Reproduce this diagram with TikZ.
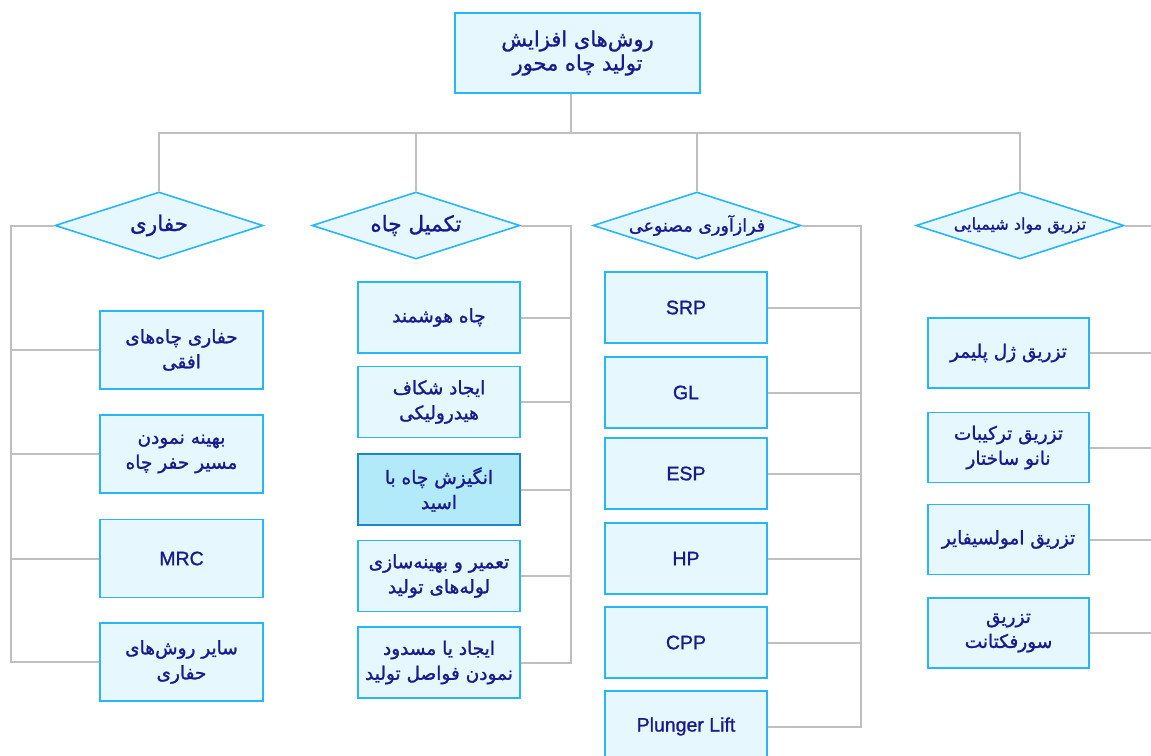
\documentclass[tikz,border=0pt]{standalone}
\usepackage{fontspec}
\setmainfont{Liberation Sans}
\newfontfamily\latinmed[FakeBold=1.2]{Liberation Sans}
\newfontfamily\farsi[Script=Arabic, FakeBold=1.3]{DejaVu Sans}
\TeXXeTstate=1
\usetikzlibrary{shapes.geometric}
\definecolor{bordc}{HTML}{29B6F6}
\definecolor{boxc}{HTML}{E6F8FE}
\definecolor{hifill}{HTML}{B3EAF9}
\definecolor{hibord}{HTML}{1C86C6}
\definecolor{txtc}{HTML}{1A1A8C}
\definecolor{linec}{HTML}{BFBFBF}
\newcommand{\fa}[1]{{\farsi\beginR #1\endR}}
\tikzset{
  conn/.style={draw=linec, line width=2pt},
  box/.style={rectangle, draw=bordc, fill=boxc, line width=1.6pt, text=txtc, align=center,
    minimum width=162, minimum height=71, inner sep=2pt, font=\fontsize{18.5}{25}\selectfont},
  lbox/.style={box, font=\latinmed\fontsize{19.5}{22}\selectfont},
  diam/.style={diamond, draw=bordc, fill=boxc, line width=1.6pt, text=txtc, inner sep=0pt,
    aspect=3.1, minimum width=208, minimum height=67, font=\fontsize{21.5}{22}\selectfont},
}
\begin{document}
\begin{tikzpicture}[x=1pt, y=-1pt]
\useasboundingbox (0,0) rectangle (1151,755);
\clip (0,0) rectangle (1151,755);
% top
\node[box, minimum width=245, minimum height=80, font=\fontsize{21}{24}\selectfont] (top) at (577.5,53) {\fa{روش‌های افزایش}\\\fa{تولید چاه محور}};
% diamonds
\node[diam] (d1) at (159,225.5) {\fa{حفاری}};
\node[diam] (d2) at (416,225.5) {\fa{تکمیل چاه}};
\node[diam, font=\fontsize{17.5}{20}\selectfont] (d3) at (697,225.5) {\fa{فرازآوری مصنوعی}};
\node[diam, font=\fontsize{16}{18}\selectfont] (d4) at (1020,225.5) {\fa{تزریق مواد شیمیایی}};
% column 1
\node[box, minimum width=163, minimum height=78] (b11) at (181.5,350) {\fa{حفاری چاه‌های}\\\fa{افقی}};
\node[box, minimum width=163, minimum height=78] (b12) at (181.5,454) {\fa{بهینه نمودن}\\\fa{مسیر حفر چاه}};
\node[lbox, minimum width=163, minimum height=78] (b13) at (181.5,558.5) {MRC};
\node[box, minimum width=163, minimum height=78] (b14) at (181.5,662) {\fa{سایر روش‌های}\\\fa{حفاری}};
% column 2
\node[box] (b21) at (439,317.5) {\fa{چاه هوشمند}};
\node[box] (b22) at (439,402) {\fa{ایجاد شکاف}\\\fa{هیدرولیکی}};
\node[box, fill=hifill, draw=hibord] (b23) at (439,489.5) {\fa{انگیزش چاه با}\\\fa{اسید}};
\node[box] (b24) at (439,576) {\fa{تعمیر و بهینه‌سازی}\\\fa{لوله‌های تولید}};
\node[box] (b25) at (439,662.5) {\fa{ایجاد یا مسدود}\\\fa{نمودن فواصل تولید}};
% column 3
\node[lbox] (b31) at (686,307.5) {SRP};
\node[lbox] (b32) at (686,392.5) {GL};
\node[lbox] (b33) at (686,473.5) {ESP};
\node[lbox] (b34) at (686,558.5) {HP};
\node[lbox] (b35) at (686,642.5) {CPP};
\node[lbox] (b36) at (686,726.5) {Plunger Lift};
% column 4
\node[box, minimum width=161, minimum height=70] (b41) at (1008.5,353) {\fa{تزریق ژل پلیمر}};
\node[box, minimum width=161, minimum height=70] (b42) at (1008.5,447.5) {\fa{تزریق ترکیبات}\\\fa{نانو ساختار}};
\node[box, minimum width=161, minimum height=70] (b43) at (1008.5,539.5) {\fa{تزریق امولسیفایر}};
\node[box, minimum width=161, minimum height=70] (b44) at (1008.5,633) {\fa{تزریق}\\\fa{سورفکتانت}};
% coordinates
\coordinate (bus) at (571,133);
\coordinate (c1) at (11,0);
\coordinate (c2) at (571,0);
\coordinate (c3) at (861,0);
\coordinate (c4) at (1165,0);
% top connectors
\draw[conn] (top.south -| bus) -- (bus);
\draw[conn] (d1.north) |- (bus) -| (d4.north);
\draw[conn] (d2.north) -- (d2.north |- bus);
\draw[conn] (d3.north) -- (d3.north |- bus);
% column 1
\draw[conn] (d1.west) -| (c1 |- b14.west) -- (b14.west);
\foreach \n in {b11,b12,b13} \draw[conn] (\n.west) -- (\n.west -| c1);
% column 2
\draw[conn] (d2.east) -| (c2 |- b25.east) -- (b25.east);
\foreach \n in {b21,b22,b23,b24} \draw[conn] (\n.east) -- (\n.east -| c2);
% column 3
\draw[conn] (d3.east) -| (c3 |- b36.east) -- (b36.east);
\foreach \n in {b31,b32,b33,b34,b35} \draw[conn] (\n.east) -- (\n.east -| c3);
% column 4
\draw[conn] (d4.east) -| (c4 |- b44.east) -- (b44.east);
\foreach \n in {b41,b42,b43} \draw[conn] (\n.east) -- (\n.east -| c4);
\end{tikzpicture}
\end{document}
